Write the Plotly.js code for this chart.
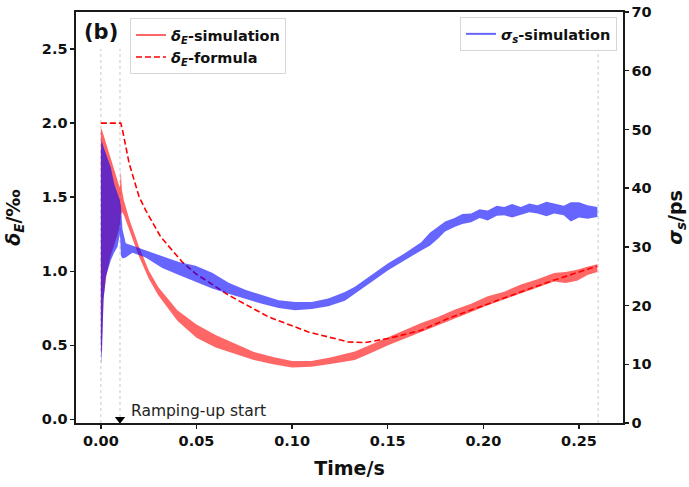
<!DOCTYPE html>
<html><head><meta charset="utf-8">
<script src="https://cdn.plot.ly/plotly-3.0.1.min.js"></script>
<style>html,body{margin:0;padding:0;background:#fff}#chart{width:689px;height:487px}</style>
</head><body><div id="chart"></div>
<script>
// ---- data ----
const tRed = [0.0000,0.0004,0.0014,0.0030,0.0050,0.0070,0.0090,0.0100,0.0104,0.0110,0.0120,0.0150,0.0200,0.0250,0.0300,0.0400,0.0500,0.0600,0.0700,0.0800,0.0900,0.1000,0.1100,0.1200,0.1328,0.1415,0.1502,0.1589,0.1675,0.1762,0.1849,0.1936,0.2023,0.2109,0.2196,0.2283,0.2370,0.2430,0.2490,0.2544,0.2596];
const redUpper = [1.96,1.96,1.92,1.85,1.76,1.68,1.60,1.56,1.68,1.55,1.48,1.345,1.164,1.007,0.894,0.736,0.640,0.570,0.511,0.455,0.421,0.394,0.394,0.417,0.458,0.505,0.556,0.600,0.650,0.690,0.740,0.780,0.830,0.862,0.910,0.945,0.988,0.995,1.010,1.030,1.047];
const redLower = [0.45,0.45,0.82,0.98,1.10,1.18,1.26,1.32,1.38,1.40,1.38,1.28,1.097,0.95,0.838,0.665,0.550,0.485,0.440,0.400,0.372,0.350,0.355,0.373,0.400,0.450,0.500,0.545,0.590,0.635,0.680,0.725,0.770,0.810,0.850,0.890,0.930,0.920,0.935,0.975,0.995];

const tBlue = [0.0000,0.0004,0.0014,0.0026,0.0052,0.0069,0.0087,0.0100,0.0105,0.0113,0.0130,0.0165,0.0234,0.0321,0.0408,0.0495,0.0582,0.0668,0.0755,0.0842,0.0929,0.1016,0.1103,0.1189,0.1276,0.1328,0.1415,0.1502,0.1589,0.1675,0.1720,0.1762,0.1800,0.1849,0.1890,0.1936,0.1980,0.2023,0.2070,0.2109,0.2150,0.2196,0.2240,0.2283,0.2330,0.2370,0.2420,0.2457,0.2500,0.2544,0.2596];
const blueUpper = [46.5,48.2,47.0,45.8,43.5,40.8,39.0,37.9,36.8,33.0,30.6,30.2,29.4,28.3,27.4,26.8,25.6,23.9,22.7,21.8,20.9,20.6,20.6,21.2,22.3,23.2,25.2,27.2,28.9,30.8,32.4,33.4,34.3,34.9,35.6,35.7,36.4,36.2,37.0,36.8,37.3,36.8,37.4,37.1,37.7,37.4,37.0,37.6,37.6,37.1,36.8];
const blueLower = [14.0,9.8,20.9,24.9,27.7,29.0,30.0,32.3,28.5,28.0,28.2,29.0,28.2,26.4,25.2,24.0,22.9,22.0,21.1,20.3,19.6,19.2,19.4,19.9,20.8,22.0,24.0,26.0,27.7,29.4,30.2,31.4,32.6,33.4,33.9,34.2,34.9,34.5,35.3,35.4,35.0,35.4,35.9,35.7,35.2,35.7,35.4,34.3,35.0,34.8,35.1];

const tFormula = [0.0000,0.0104,0.0113,0.0148,0.0200,0.0234,0.03125,0.0425,0.0495,0.0668,0.0877,0.1085,0.1293,0.1380,0.1500,0.1675,0.1814,0.2022,0.2196,0.2370,0.2595];
const deltaFormula = [2.00,2.00,1.953,1.728,1.502,1.412,1.232,1.063,0.984,0.838,0.691,0.590,0.522,0.518,0.545,0.601,0.680,0.780,0.860,0.940,1.034];

const guideTimes = [0, 0.01, 0.26];
const guideTop = 2.5;
const rampStart = 0.01;

const xTicks = [0, 0.05, 0.10, 0.15, 0.20, 0.25];
const xTickText = ['0.00','0.05','0.10','0.15','0.20','0.25'];
const yLeftTicks = [0, 0.5, 1.0, 1.5, 2.0, 2.5];
const yLeftTickText = ['0.0','0.5','1.0','1.5','2.0','2.5'];
const yRightTicks = [0,10,20,30,40,50,60,70];
const yRightTickText = ['0','10','20','30','40','50','60','70'];

// ---- styles ----
const RED_A = 'rgba(255,0,0,0.6)';
const BLUE_A = 'rgba(0,0,255,0.6)';
const AX = '#1a1a1a';
const FONT = 'DejaVu Sans';

function band(t, up, lo){
  return { x: t.concat(t.slice().reverse()), y: up.concat(lo.slice().reverse()) };
}
const rb = band(tRed, redUpper, redLower);
const bb = band(tBlue, blueUpper, blueLower);

const traces = [
  { x: rb.x, y: rb.y, type:'scatter', mode:'lines', fill:'toself', fillcolor: RED_A,
    line:{width:0, color:RED_A}, showlegend:false, hoverinfo:'skip', yaxis:'y' },
  { x:[null], y:[null], type:'scatter', mode:'lines', name:'<i>δ</i><sub><i>E</i></sub>-simulation',
    line:{color:RED_A, width:2}, legend:'legend', yaxis:'y' },
  { x: tFormula, y: deltaFormula, type:'scatter', mode:'lines', name:'<i>δ</i><sub><i>E</i></sub>-formula',
    line:{color:'#ff0000', width:1.6, dash:'6px,3px'}, legend:'legend', yaxis:'y' },
  { x:[rampStart], y:[0], type:'scatter', mode:'markers', showlegend:false, cliponaxis:false,
    marker:{symbol:'triangle-down', size:9, color:'#000'}, yaxis:'y', hoverinfo:'skip' },
  { x: bb.x, y: bb.y, type:'scatter', mode:'lines', fill:'toself', fillcolor: BLUE_A,
    line:{width:0, color:BLUE_A}, showlegend:false, hoverinfo:'skip', yaxis:'y2' },
  { x:[null], y:[null], type:'scatter', mode:'lines', name:'<i>σ</i><sub><i>s</i></sub>-simulation',
    line:{color:BLUE_A, width:2}, legend:'legend2', yaxis:'y2' }
];

const shapes = guideTimes.map(g => ({
  type:'line', xref:'x', yref:'y', x0:g, x1:g, y0:-0.025, y1:guideTop,
  line:{color:'#c8c8c8', width:1, dash:'dot'}, layer:'below'
}));

const axisCommon = {
  showgrid:false, zeroline:false, showline:true, linecolor:AX, linewidth:1.6,
  ticks:'outside', ticklen:4, tickwidth:1.3, tickcolor:AX,
  tickfont:{family:FONT, size:14.5, color:'#111', weight:'bold'}
};

const layout = {
  width:689, height:487,
  margin:{l:76, r:66, t:12, b:64},
  paper_bgcolor:'#fff', plot_bgcolor:'#fff',
  font:{family:FONT, color:'#111'},
  xaxis: Object.assign({}, axisCommon, {
    range:[-0.013, 0.273], tickvals:xTicks, ticktext:xTickText, mirror:true,
    title:{text:'Time/s', font:{family:FONT, size:19, weight:'bold', color:'#111'}, standoff:13}
  }),
  yaxis: Object.assign({}, axisCommon, {
    range:[-0.025, 2.75], tickvals:yLeftTicks, ticktext:yLeftTickText,
    title:{text:'<i>δ</i><sub><i>E</i></sub>/‰', font:{family:FONT, size:19, weight:'bold', color:'#111'}, standoff:16}
  }),
  yaxis2: Object.assign({}, axisCommon, {
    range:[0, 70], tickvals:yRightTicks, ticktext:yRightTickText,
    overlaying:'y', side:'right', anchor:'x',
    title:{text:'<i>σ</i><sub><i>s</i></sub>/ps', font:{family:FONT, size:19, weight:'bold', color:'#111'}, standoff:18}
  }),
  legend:{x:0.0987, y:0.985, xanchor:'left', yanchor:'top',
    bgcolor:'rgba(255,255,255,0.8)', bordercolor:'#d6d6d6', borderwidth:1,
    font:{family:FONT, size:14.5, weight:'bold', color:'#111'}, itemwidth:30, tracegroupgap:0},
  legend2:{x:0.989, y:0.988, xanchor:'right', yanchor:'top',
    bgcolor:'rgba(255,255,255,0.8)', bordercolor:'#d6d6d6', borderwidth:1,
    font:{family:FONT, size:14.5, weight:'bold', color:'#111'}, itemwidth:30},
  shapes: shapes,
  annotations:[
    {xref:'paper', yref:'paper', x:0.011, y:0.951, xanchor:'left', yanchor:'middle',
     text:'<b>(b)</b>', showarrow:false, font:{family:FONT, size:21, color:'#111'}},
    {xref:'x', yref:'y', x:0.0148, y:0.055, xanchor:'left', yanchor:'middle',
     text:'Ramping-up start', showarrow:false, font:{family:FONT, size:15.5, color:'#222'}}
  ]
};

Plotly.newPlot('chart', traces, layout, {staticPlot:true, displayModeBar:false});
</script>
</body></html>
